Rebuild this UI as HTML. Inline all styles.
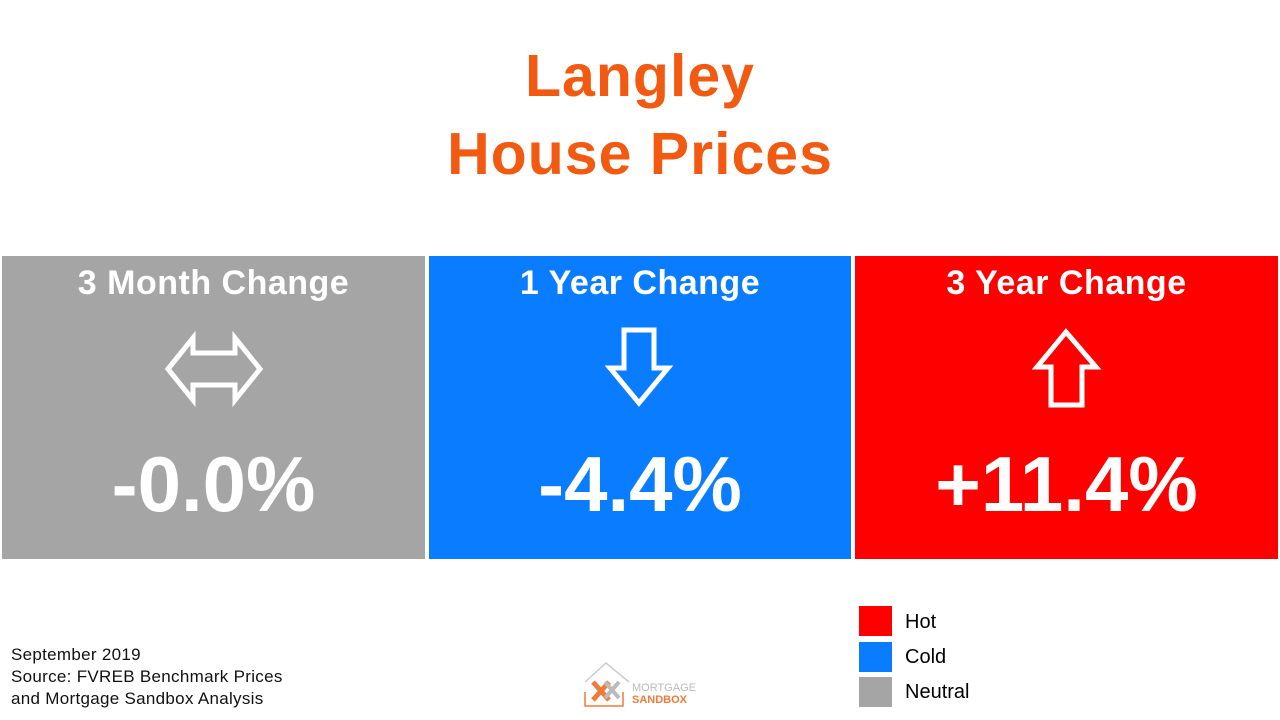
<!DOCTYPE html>
<html><head><meta charset="utf-8"><style>
body{margin:0;width:1280px;height:720px;background:#fff;position:relative;overflow:hidden;font-family:"Liberation Sans",sans-serif}
.t{position:absolute;left:0;width:1280px;text-align:center;color:#f25a12;font-weight:bold;font-size:59px;letter-spacing:1px}
.p{position:absolute;top:256px;height:303px;color:#fff;text-align:center}
.p h2{margin:0;position:absolute;top:262px;width:100%;font-size:34px;top:8px;letter-spacing:0.5px}
.p .v{position:absolute;top:188px;width:100%;font-size:78px;font-weight:bold;line-height:80px}
.p svg{position:absolute;left:0;top:70px}
.lg{position:absolute;left:859px;width:33px;height:30px}
.ll{position:absolute;left:905px;font-size:20px;color:#000}
.src{position:absolute;left:11px;top:644px;font-size:17px;line-height:22px;color:#111;letter-spacing:0.3px}
</style></head><body>
<div class="t" style="top:42px">Langley</div>
<div class="t" style="top:120px">House Prices</div>

<div class="p" style="left:2px;width:423px;background:#a5a5a5">
<h2>3 Month Change</h2>
<svg width="423" height="90"><polygon points="166,43 191,12 191,27 233,27 233,12 258,43 233,74 233,59 191,59 191,74" fill="none" stroke="#fff" stroke-width="5"/></svg>
<div class="v">-0.0%</div></div>

<div class="p" style="left:429px;width:422px;background:#0a7cff">
<h2>1 Year Change</h2>
<svg width="422" height="90"><polygon points="195,4 225,4 225,42 239,42 210,77 181,42 195,42" fill="none" stroke="#fff" stroke-width="5"/></svg>
<div class="v">-4.4%</div></div>

<div class="p" style="left:855px;width:423px;background:#ff0000">
<h2>3 Year Change</h2>
<svg width="423" height="90"><polygon points="211,6 241,41 227,41 227,79 196,79 196,41 182,41" fill="none" stroke="#fff" stroke-width="5"/></svg>
<div class="v">+11.4%</div></div>

<div class="src">September 2019<br>Source: FVREB Benchmark Prices<br>and Mortgage Sandbox Analysis</div>

<svg style="position:absolute;left:583px;top:660px" width="115" height="50">
<polyline points="2,22 23,3 46,22" fill="none" stroke="#ccc" stroke-width="1.5"/>
<polyline points="2,32 2,46 40,46 40,32" fill="none" stroke="#f07a3a" stroke-width="1.5"/>
<path d="M10,22 L26,40 M26,22 L10,40" stroke="#f07a3a" stroke-width="5"/>
<path d="M22,22 L36,38 M36,22 L22,38" stroke="#bbb" stroke-width="4"/>
<text x="49" y="31" font-size="11" fill="#bbb" font-family="Liberation Sans">MORTGAGE</text>
<text x="49" y="43" font-size="11" fill="#f07a3a" font-weight="bold" font-family="Liberation Sans">SANDBOX</text>
</svg>

<div class="lg" style="top:606px;background:#ff0000"></div>
<div class="ll" style="top:611px">Hot</div>
<div class="lg" style="top:642px;background:#0a7cff"></div>
<div class="ll" style="top:646px">Cold</div>
<div class="lg" style="top:677px;background:#a5a5a5"></div>
<div class="ll" style="top:681px">Neutral</div>
</body></html>
